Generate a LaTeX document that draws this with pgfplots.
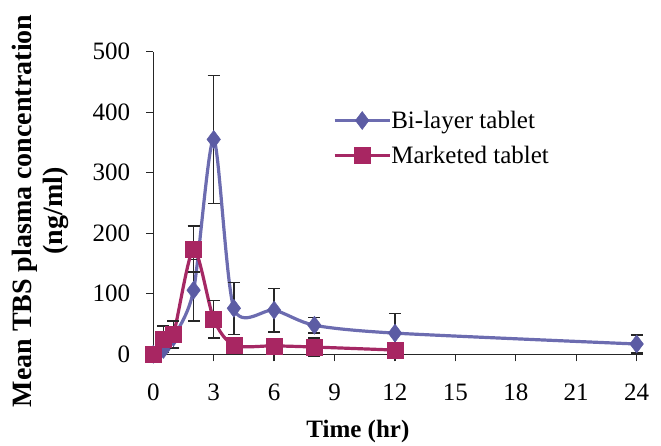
\documentclass[border=0pt]{standalone}
\usepackage{pgfplots}
\pgfplotsset{compat=1.18}
\usepackage{fontspec}
\setmainfont{Liberation Serif}
\definecolor{bluel}{RGB}{108,108,176}
\definecolor{bluem}{RGB}{92,92,164}
\definecolor{magl}{RGB}{165,40,100}
\definecolor{magm}{RGB}{168,38,98}
\begin{document}
\begin{tikzpicture}
\useasboundingbox (-153.3pt,-90.7pt) rectangle (507.7pt,354.3pt);
\begin{axis}[
  at={(0pt,0pt)}, anchor=south west,
  scale only axis, width=489.4pt, height=302.6pt,
  xmin=0, xmax=24.3, ymin=0, ymax=500,
  clip=false,
  axis x line*=bottom, axis y line*=left,
  axis line style={-, line width=1.3pt, black!85},
  xtick={0,3,...,24}, ytick={0,100,...,500},
  tick align=outside, major tick length=7pt,
  tick style={line width=1.3pt, black!85},
  /pgf/number format/assume math mode=true,
  ticklabel style={font=\fontsize{25}{30}\selectfont, inner sep=0pt},
  yticklabel style={anchor=east, xshift=-16pt},
  xticklabel style={anchor=north, yshift=-22pt},
  xlabel={\textbf{Time (hr)}},
  xlabel style={font=\fontsize{25}{30}\selectfont, at={(axis description cs:0.418,-0.2535)}, anchor=center, inner sep=0pt},
  ylabel={\textbf{Mean TBS plasma concentration}\\\textbf{(ng/ml)}},
  ylabel style={font=\fontsize{28}{31}\selectfont, align=center, at={(axis description cs:-0.2315,0.4736)}, anchor=center, inner sep=0pt},
  legend style={draw=none, fill=none, at={(axis description cs:0.367,0.715)}, anchor=west,
    font=\fontsize{25}{30}\selectfont, inner sep=0pt, row sep=16pt,
    nodes={inner sep=0pt}},
  legend cell align=left,
  legend image code/.code={\draw[#1,mark repeat=2,mark phase=2] plot coordinates {(0pt,0pt) (27.5pt,0pt) (55pt,0pt)};\hspace*{63pt}},
  error bars/y dir=both, error bars/y explicit,
  error bars/error bar style={black!85, line width=1.3pt},
  error bars/error mark options={rotate=90, black!85, mark size=6pt, line width=1.3pt},
]
\addplot[color=bluel, line width=3.2pt, smooth, tension=0.45, mark=diamond*, mark size=9pt,
  mark options={fill=bluem, draw=bluem, line width=0.5pt}]
  coordinates {
  (0,0) +- (0,0)
  (0.5,8) +- (0,8)
  (1,28) +- (0,18)
  (2,106) +- (0,51)
  (3,355) +- (0,106)
  (4,76) +- (0,43)
  (6,73) +- (0,36)
  (8,48) +- (0,13)
  (12,35) +- (0,32)
  (24,17) +- (0,15)
  };
\addlegendentry{Bi-layer tablet}
\addplot[color=magl, line width=3.2pt, smooth, tension=0.45, mark=square*, mark size=8pt,
  mark options={fill=magm, draw=magm, line width=0.5pt}]
  coordinates {
  (0,0) +- (0,0)
  (0.5,25) +- (0,22)
  (1,33) +- (0,22)
  (2,174) +- (0,38)
  (3,58) +- (0,31)
  (4,15) +- (0,6)
  (6,14) +- (0,6)
  (8,12) +- (0,15)
  (12,7) +- (0,4)
  };
\addlegendentry{Marketed tablet}
\end{axis}
\end{tikzpicture}
\end{document}
